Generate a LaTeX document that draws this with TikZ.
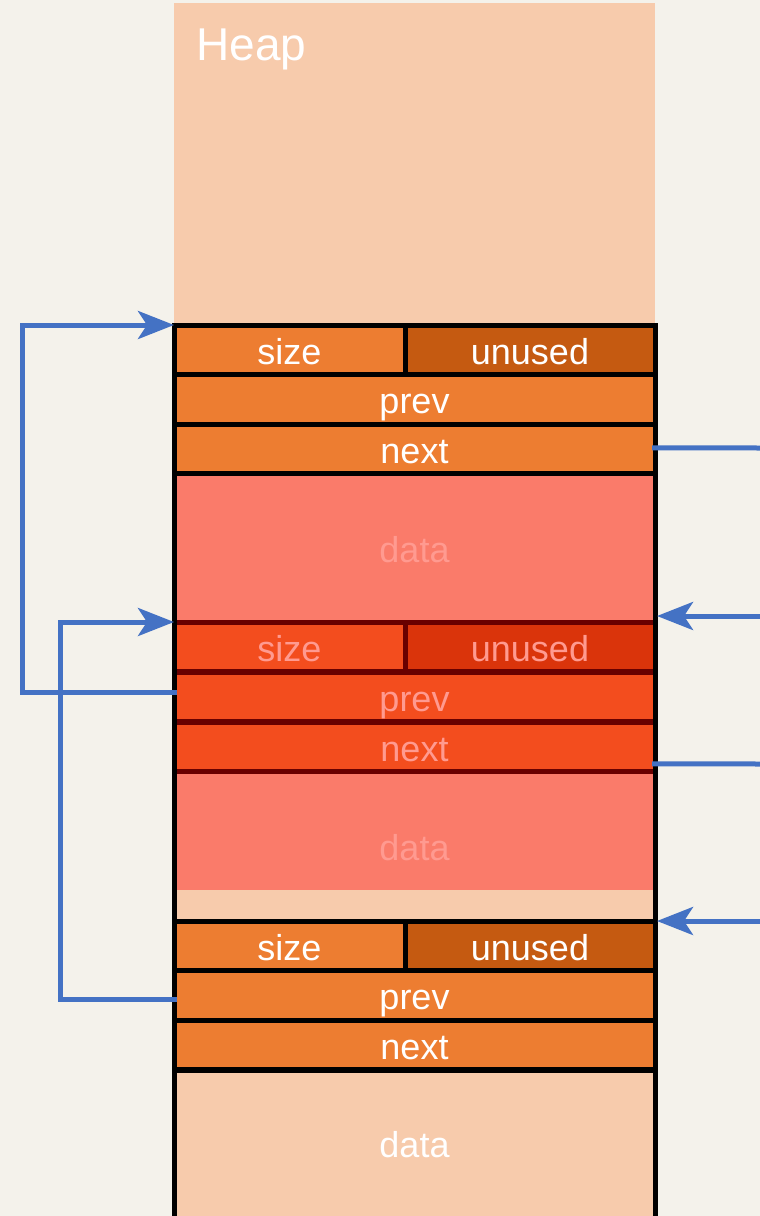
\documentclass[tikz,border=0pt]{standalone}
\usepackage{fontspec}
\setmainfont{Liberation Sans}
\usetikzlibrary{arrows.meta}
\definecolor{bg}{HTML}{F4F2EB}
\definecolor{heap}{HTML}{F7CBAC}
\definecolor{hdr}{HTML}{ED7D31}
\definecolor{hdrdark}{HTML}{C55A11}
\definecolor{salmon}{HTML}{FA7B6A}
\definecolor{used}{HTML}{F34D1E}
\definecolor{useddark}{HTML}{DA340B}
\definecolor{usedline}{HTML}{690000}
\definecolor{usedtext}{HTML}{FF9A90}
\definecolor{link}{HTML}{4472C4}
\begin{document}
\begin{tikzpicture}[x=1pt,y=-1pt,
  cell/.style={draw=black, line width=5pt, fill=hdr, inner sep=0pt, outer sep=0pt,
    anchor=north west, minimum height=49.5pt, text=white, text height=29pt, text depth=0pt,
    font=\fontsize{36}{40}\selectfont},
  cellhalf/.style={cell, minimum width=231pt},
  cellrest/.style={cell, minimum width=250pt, fill=hdrdark},
  cellfull/.style={cell, minimum width=481pt},
  ucell/.style={draw=usedline, fill=used, text=usedtext},
  ucelldark/.style={draw=usedline, fill=useddark, text=usedtext},
  area/.style={inner sep=0pt, outer sep=0pt, anchor=north west, minimum width=481pt},
  lbl/.style={font=\fontsize{36}{40}\selectfont, text height=29pt, text depth=0pt},
  wire/.style={draw=link, line width=5pt, line join=miter},
  ptr/.style={wire, -{Stealth[length=36pt, width=28pt, inset=9pt]}}]

\useasboundingbox (0,0) rectangle (760,1216);
\fill[bg] (0,0) rectangle (760,1216);

% heap column
\fill[heap] (174,3) rectangle (655,1216);
\node[anchor=base west, text=white, font=\fontsize{46}{50}\selectfont] (heaplbl) at (193,60) {Heap};

% data areas
\node[area, fill=salmon, minimum height=148pt] (d1) at (174,474) {};
\node[lbl, text=usedtext] (d1t) at (414.5,548) {data};
\node[area, fill=salmon, minimum height=118pt] (d2) at (174,772) {};
\node[lbl, text=usedtext] (d2t) at (414.5,846) {data};
\node[lbl, text=white] (d3t) at (414.5,1143) {data};

% first chunk header (free)
\node[cellhalf] (s1) at (174,325) {size};
\node[cellrest] (u1) at (405,325) {unused};
\node[cellfull] (p1) at (174,374.5) {prev};
\node[cellfull] (n1) at (174,424) {next};

% second chunk header (in use)
\node[cellhalf, ucell] (s2) at (174,622) {size};
\node[cellrest, ucelldark] (u2) at (405,622) {unused};
\node[cellfull, ucell] (p2) at (174,672) {prev};
\node[cellfull, ucell] (n2) at (174,722) {next};

% third chunk header (free)
\node[cellhalf] (s3) at (174,921) {size};
\node[cellrest] (u3) at (405,921) {unused};
\node[cellfull] (p3) at (174,970.5) {prev};
\node[cellfull] (n3) at (174,1020) {next};
\draw[line width=5pt] (174,1070) -- (655,1070);

% outer walls of the chunk list
\draw[line width=5pt] (s1.north west) -- (174,1216);
\draw[line width=5pt] (u1.north east) -- (655,1216);

% back links
\draw[ptr] ([xshift=3pt,yshift=4pt]p2.west) -- ++(-155,0) |- (s1.north west);
\draw[ptr] ([xshift=3pt,yshift=-4pt]p3.west) -- ++(-117,0) |- (s2.north west);

% forward links
\coordinate (o1) at (760,448);
\coordinate (o2) at (760,764);
\coordinate (r1) at (760,616);
\coordinate (t1) at (657,616);
\coordinate (r2) at (760,921);
\coordinate (t2) at (657,921);
\draw[wire] ([xshift=-3pt,yshift=1pt]n1.east) -- (o1);
\draw[wire] ([xshift=-3pt,yshift=-17pt]n2.east) -- (o2);
\draw[ptr] (r1) -- (t1);
\draw[ptr] (r2) -- (t2);
\end{tikzpicture}
\end{document}
